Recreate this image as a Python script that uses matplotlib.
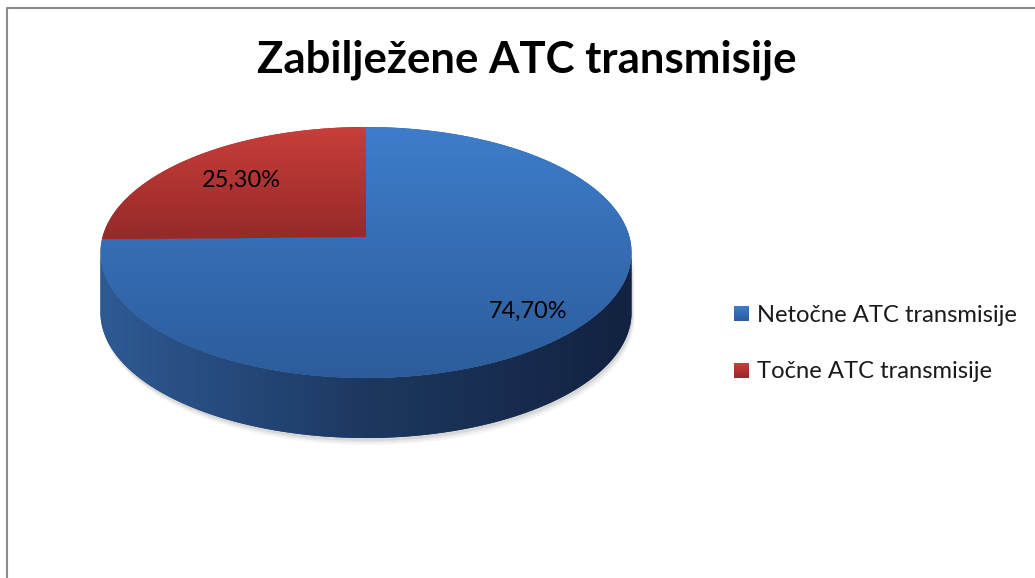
import numpy as np
import matplotlib.pyplot as plt
from matplotlib.patches import Polygon
from matplotlib.colors import LinearSegmentedColormap

plt.rcParams['font.family'] = ['Lato', 'DejaVu Sans']

title = "Zabilježene ATC transmisije"
categories = ["Netočne ATC transmisije", "Točne ATC transmisije"]
shares = [74.7, 25.3]
value_labels = ["74,70%", "25,30%"]

# top face (light, dark), side (left, mid, right)
face_colors = [("#3e7dcb", "#2c5c9b"), ("#c93e3a", "#952a29")]
side_colors = [("#2e5a94", "#1d3860", "#122240"), ("#8f2826", "#6a1d1c", "#4a1412")]
label_r = [0.8, 0.7]

# pie geometry, pixel units (y down)
W, H = 1035, 578
CX, CY = 366, 237
R, B, K = 263.5, 123.6, 0.1235
DEPTH = 60


def project(theta, r=1.0):
    s = r * np.sin(theta)
    d = 1 + K * s
    return CX + R * r * np.cos(theta) / d, CY - B * s / d


def gradient_fill(ax, xs, ys, colors, horizontal=False, box=None, zorder=2):
    poly = Polygon(np.column_stack([xs, ys]), closed=True,
                   facecolor=colors[len(colors) // 2], edgecolor='none', zorder=zorder)
    ax.add_patch(poly)
    cmap = LinearSegmentedColormap.from_list('g', list(colors))
    grad = np.linspace(0, 1, 256)
    img = grad[np.newaxis, :] if horizontal else grad[:, np.newaxis]
    if box is None:
        box = (xs.min(), xs.max(), ys.min(), ys.max())
    x0, x1, y0, y1 = box
    im = ax.imshow(img, cmap=cmap, extent=(x0, x1, y1, y0), origin='upper',
                   aspect='auto', zorder=zorder, interpolation='bilinear')
    im.set_clip_path(poly)


def fit_width(fig, txt, width):
    bb = txt.get_window_extent(fig.canvas.get_renderer())
    txt.set_fontsize(txt.get_fontsize() * width / bb.width)


fig = plt.figure(figsize=(W / 100, H / 100), dpi=100)
ax = fig.add_axes([0, 0, 1, 1])
ax.set_axis_off()

# slice angle ranges: start at 12 o'clock, clockwise
fracs = np.array(shares) / sum(shares)
ends = np.pi / 2 - 2 * np.pi * np.concatenate([[0], np.cumsum(fracs)])
slices = [(ends[i + 1], ends[i]) for i in range(len(shares))]

# visible front of the cylinder, between the silhouette points
fa, fb = np.pi + np.arcsin(K), 2 * np.pi - np.arcsin(K)
pie_box = (CX - R * 1.01, CX + R * 1.01, CY - 110, CY + 142 + DEPTH)

# soft shadow below the side
t = np.linspace(fa, fb, 200)
sx, sy = project(t)
for off, a in [(7, 0.04), (5, 0.05), (3, 0.07)]:
    ax.fill(np.concatenate([sx, sx[::-1]]) + off * 0.4,
            np.concatenate([sy, sy[::-1] + DEPTH]) + off,
            color='black', alpha=a, lw=0, zorder=1)

# sides
for i, (t0, t1) in enumerate(slices):
    for shift in (-2 * np.pi, 0, 2 * np.pi):
        a, b = max(t0, fa + shift), min(t1, fb + shift)
        if a >= b:
            continue
        t = np.linspace(a, b, 200)
        x, y = project(t)
        gradient_fill(ax, np.concatenate([x, x[::-1]]),
                      np.concatenate([y, y[::-1] + DEPTH]),
                      side_colors[i], horizontal=True, box=pie_box, zorder=2)

# top faces
for i, (t0, t1) in enumerate(slices):
    t = np.linspace(t0, t1, 300)
    x, y = project(t)
    gradient_fill(ax, np.concatenate([[CX], x]), np.concatenate([[CY], y]),
                  face_colors[i], zorder=3)

# value labels
for i, (t0, t1) in enumerate(slices):
    lx, ly = project((t0 + t1) / 2, label_r[i])
    txt = ax.text(lx, ly, value_labels[i], ha='center', va='center',
                  fontsize=16, color='black', zorder=5)
    fit_width(fig, txt, 79)

# title
tt = ax.text(527, 73, title, ha='center', va='baseline', fontsize=28,
             fontweight='bold', color='black')
fit_width(fig, tt, 539)

# legend
for i, name in enumerate(categories):
    y0 = 306 + 57 * i
    gradient_fill(ax, np.array([734, 749, 749, 734]), np.array([y0, y0, y0 + 15, y0 + 15]),
                  face_colors[i], zorder=4)
    lt = ax.text(757, y0 + 15.5, name, ha='left', va='baseline', fontsize=15, color='#1a1a1a')
    if i == 0:
        fit_width(fig, lt, 261)
        legend_size = lt.get_fontsize()
    else:
        lt.set_fontsize(legend_size)

# chart frame
ax.plot([7, 7, W + 5], [H + 5, 8, 8], color='#8c8c8c', lw=1.5, zorder=6)

ax.set_xlim(0, W)
ax.set_ylim(H, 0)
fig.savefig("out.png", dpi=100)
